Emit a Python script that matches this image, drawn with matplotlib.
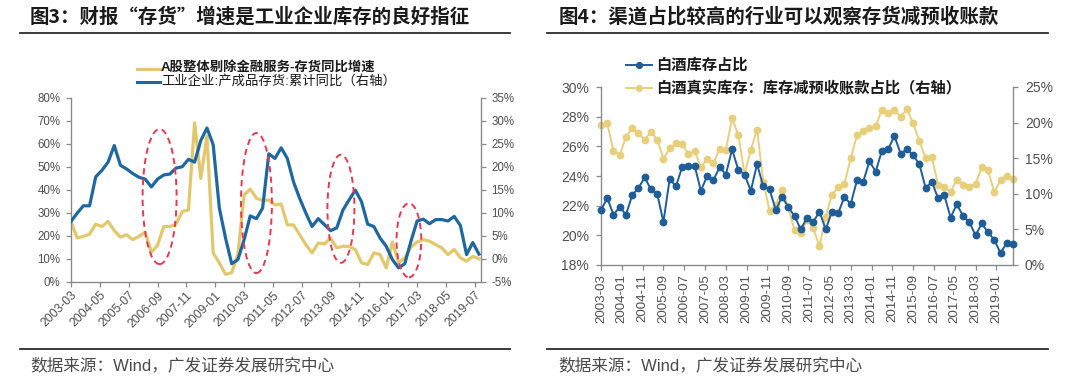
import matplotlib
matplotlib.use("Agg")
import matplotlib.pyplot as plt
from matplotlib.patches import Ellipse
from matplotlib.lines import Line2D
import pandas as pd

CJK = ['Noto Sans CJK SC', 'DejaVu Sans']
LAT = ['Liberation Sans', 'Noto Sans CJK SC', 'DejaVu Sans']
plt.rcParams['font.family'] = LAT

# ---------------- data ----------------
dates = pd.date_range('2003-03-01', '2019-09-01', freq='3MS')   # quarterly points

# Fig 3 (left)
yellow_left = [26.2, 19.0, 19.7, 20.7, 25.0, 24.0, 26.2, 22.2, 19.4, 20.4,
               18.3, 19.7, 21.6, 12.8, 15.8, 24.0, 24.0, 25.0, 30.5, 31.2,
               69.1, 44.9, 63.3, 12.5, 8.2, 3.2, 3.9, 11.8, 37.7, 40.3,
               36.3, 35.3, 35.5, 33.4, 33.8, 24.7, 24.7, 20.4, 16.1, 12.5,
               16.8, 16.4, 19.0, 14.7, 15.4, 15.4, 14.0, 8.2, 7.5, 12.5,
               11.8, 6.0, 17.3, 8.2, 10.4, 15.0, 17.3, 18.3, 17.6, 16.1,
               14.7, 11.8, 14.0, 10.4, 8.9, 11.0, 10.0]
blue_left = [8.1, 9.9, 11.5, 11.5, 17.8, 19.2, 21.0, 24.6, 20.3, 19.5,
             18.5, 17.7, 17.3, 15.6, 17.3, 18.2, 18.4, 19.7, 20.0, 21.6,
             21.0, 25.7, 28.4, 24.8, 11.0, 4.5, -1.1, -0.2, 4.1, 9.3,
             8.7, 11.0, 22.8, 21.8, 24.1, 21.8, 16.7, 13.1, 9.9, 7.0,
             8.7, 7.4, 6.1, 6.7, 10.6, 12.8, 14.9, 12.4, 7.5, 7.0,
             4.5, 2.7, -0.2, -2.0, -1.1, 3.8, 8.2, 8.6, 7.6, 8.5,
             8.5, 8.2, 9.2, 7.2, 0.9, 3.5, 1.0]
left_xticks = ['2003-03', '2004-05', '2005-07', '2006-09', '2007-11', '2009-01',
               '2010-03', '2011-05', '2012-07', '2013-09', '2014-11', '2016-01',
               '2017-03', '2018-05', '2019-07']
left_legend = ['A股整体剔除金融服务-存货同比增速', '工业企业:产成品存货:累计同比（右轴）']
# highlighted periods (center date, center %, width in months, height in % of left axis)
ellipse_centers = ['2006-10', '2010-09', '2014-02', '2016-11']
ellipse_y = [37.0, 34.2, 31.7, 18.0]
ellipse_w = [16.5, 15.0, 13.1, 12.0]
ellipse_h = [58.7, 60.9, 47.0, 32.2]

# Fig 4 (right)
blue_right = [21.7, 22.5, 21.4, 21.9, 21.4, 22.7, 23.2, 23.9, 23.1, 22.8,
              20.9, 23.8, 23.3, 24.6, 24.7, 24.7, 23.0, 24.0, 23.7, 24.6,
              24.1, 25.8, 24.4, 24.1, 23.0, 24.8, 23.3, 23.1, 21.7, 22.6,
              21.9, 21.3, 20.4, 21.2, 20.9, 21.6, 20.4, 21.6, 21.5, 22.6,
              22.1, 23.7, 23.6, 25.0, 24.3, 25.7, 25.8, 26.7, 25.5, 25.8,
              25.4, 24.8, 23.2, 23.6, 22.5, 22.7, 21.2, 22.1, 21.3, 20.9,
              20.0, 20.8, 20.2, 19.7, 18.8, 19.5, 19.4]
yellow_right = [19.6, 19.9, 16.0, 15.4, 18.0, 19.2, 18.5, 17.6, 18.7, 17.6,
                14.9, 16.4, 17.1, 17.0, 15.6, 16.0, 13.7, 14.9, 14.3, 16.3,
                16.2, 20.6, 18.3, 12.7, 16.2, 19.0, 11.7, 7.6, 8.4, 10.6,
                8.1, 4.9, 4.5, 6.3, 5.2, 2.6, 6.8, 9.9, 10.9, 11.4,
                15.0, 18.2, 18.8, 19.3, 19.5, 21.8, 21.3, 21.8, 20.8, 21.9,
                19.9, 17.4, 15.0, 15.1, 11.3, 10.9, 10.3, 12.0, 11.3, 11.0,
                11.4, 13.7, 13.3, 10.2, 11.9, 12.5, 12.1]
right_xticks = ['2003-03', '2004-01', '2004-11', '2005-09', '2006-07', '2007-05',
                '2008-03', '2009-01', '2009-11', '2010-09', '2011-07', '2012-05',
                '2013-03', '2014-01', '2014-11', '2015-09', '2016-07', '2017-05',
                '2018-03', '2019-01']
right_legend = ['白酒库存占比', '白酒真实库存：库存减预收账款占比（右轴）']

title_left = '图3：财报“存货”增速是工业企业库存的良好指征'
title_right = '图4：渠道占比较高的行业可以观察存货减预收账款'
source = '数据来源：Wind，广发证券发展研究中心'


def moff(s):
    y, m = s.split('-')
    return (int(y) - 2003) * 12 + (int(m) - 3)


x_q = [moff(f'{d.year}-{d.month:02d}') for d in dates]

# ---------------- style ----------------
W, H = 1080, 381
BLU_L = '#1f67a0'
YEL_L = '#e3c76c'
BLU_R = '#1f5d98'
YEL_R = '#e8cf7c'
RED = '#e6394e'
SPINE = '#8a8a8a'
TXT = '#505050'

fig = plt.figure(figsize=(W / 100, H / 100), dpi=100)
fig.patch.set_facecolor('white')


def fx(px):
    return px / W


def fy(py):
    return 1 - py / H


def style_axes(a, b, fs):
    for s in ['top']:
        a.spines[s].set_visible(False)
        b.spines[s].set_visible(False)
    b.spines['left'].set_visible(False)
    b.spines['bottom'].set_visible(False)
    a.spines['right'].set_visible(False)
    for sp in [a.spines['left'], a.spines['bottom'], b.spines['right']]:
        sp.set_color(SPINE)
        sp.set_linewidth(1.0)
    for ax in (a, b):
        ax.tick_params(axis='both', direction='out', length=3.5, width=0.9,
                       color=SPINE, labelcolor=TXT, labelsize=fs, pad=3)
        ax.set_facecolor('none')


# ---------------- left chart ----------------
ax1 = fig.add_axes([fx(71), fy(281.7), 410 / W, 184 / H])
ax1b = ax1.twinx()
ax1.plot(x_q, yellow_left, color=YEL_L, lw=2.3, solid_joinstyle='round', zorder=2)
ax1b.plot(x_q, blue_left, color=BLU_L, lw=2.3, solid_joinstyle='round', zorder=3)
ax1.set_xlim(0, 199)
ax1.set_ylim(0, 80)
ax1b.set_ylim(-5, 35)
ax1.set_yticks(range(0, 81, 10))
ax1.set_yticklabels([f'{v}%' for v in range(0, 81, 10)])
ax1b.set_yticks(range(-5, 36, 5))
ax1b.set_yticklabels([f'{v}%' for v in range(-5, 36, 5)])
ax1.set_xticks([moff(t) for t in left_xticks])
ax1.set_xticklabels(left_xticks, rotation=45, ha='right', rotation_mode='anchor')
style_axes(ax1, ax1b, 8.3)
ax1.tick_params(axis='x', labelsize=8.8, pad=2)
ax1.tick_params(axis='y', pad=4)
ax1b.tick_params(axis='y', pad=4)

for c, yl, w, h in zip(ellipse_centers, ellipse_y, ellipse_w, ellipse_h):
    e = Ellipse((moff(c), yl / 2 - 5), w, h / 2, fill=False, edgecolor=RED,
                lw=1.4, ls=(0, (3.2, 2.2)), zorder=5)
    ax1b.add_patch(e)

# left legend
for i, (lab, col) in enumerate(zip(left_legend, [YEL_L, BLU_L])):
    yy = 68.5 + i * 13
    fig.add_artist(Line2D([fx(137), fx(160)], [fy(yy), fy(yy)], color=col, lw=2.2))
    fig.text(fx(161), fy(yy), lab, family=['Liberation Sans', 'Noto Sans CJK SC'],
             fontsize=9.6, weight='bold' if i == 0 else 'normal', color='#1a1a1a',
             va='center', ha='left')

# ---------------- right chart ----------------
ax2 = fig.add_axes([fx(601), fy(265), 412 / W, 178 / H])
ax2b = ax2.twinx()
ax2.plot(x_q, blue_right, color=BLU_R, lw=1.4, marker='o', ms=4.6, zorder=3, clip_on=False)
ax2b.plot(x_q, yellow_right, color=YEL_R, lw=1.4, marker='o', ms=4.6, zorder=2, clip_on=False)
ax2.set_zorder(ax2b.get_zorder() + 1)
ax2.set_xlim(0, 198)
ax2.set_ylim(18, 30)
ax2b.set_ylim(0, 25)
ax2.set_yticks(range(18, 31, 2))
ax2.set_yticklabels([f'{v}%' for v in range(18, 31, 2)])
ax2b.set_yticks(range(0, 26, 5))
ax2b.set_yticklabels([f'{v}%' for v in range(0, 26, 5)])
ax2.set_xticks([moff(t) for t in right_xticks])
ax2.set_xticklabels(right_xticks, rotation=90)
style_axes(ax2, ax2b, 10)
ax2.tick_params(axis='x', labelsize=9.6, pad=3)
ax2.tick_params(axis='y', pad=5)
ax2b.tick_params(axis='y', pad=5)

for i, (lab, col) in enumerate(zip(right_legend, [BLU_R, YEL_R])):
    yy = 64.5 + i * 23.5
    fig.add_artist(Line2D([fx(626), fx(652)], [fy(yy), fy(yy)], color=col, lw=1.4))
    fig.add_artist(Line2D([fx(639)], [fy(yy)], color=col, marker='o', ms=4.2, lw=0))
    fig.text(fx(656), fy(yy), lab, family=CJK, fontsize=11, weight='bold',
             color='#1a1a1a', va='center', ha='left')

# ---------------- titles, rules, sources ----------------
for x0, x1, tx, title, sx in [(20, 510, 30, title_left, 30),
                              (547, 1048, 559, title_right, 558)]:
    fig.text(fx(tx), fy(16.5), title, family=CJK, fontsize=14, weight='bold',
             color='#1a1a1a', va='center', ha='left')
    fig.add_artist(Line2D([fx(x0), fx(x1)], [fy(32.5), fy(32.5)], color='#2b2b2b', lw=1.3))
    fig.add_artist(Line2D([fx(x0), fx(x1)], [fy(349), fy(349)], color='#2b2b2b', lw=1.3))
    fig.text(fx(sx), fy(365), source, family=['Liberation Sans', 'Noto Sans CJK SC'],
             fontsize=12, color='#4a4a4a', va='center', ha='left')

fig.savefig('out.png', dpi=100, facecolor='white')
